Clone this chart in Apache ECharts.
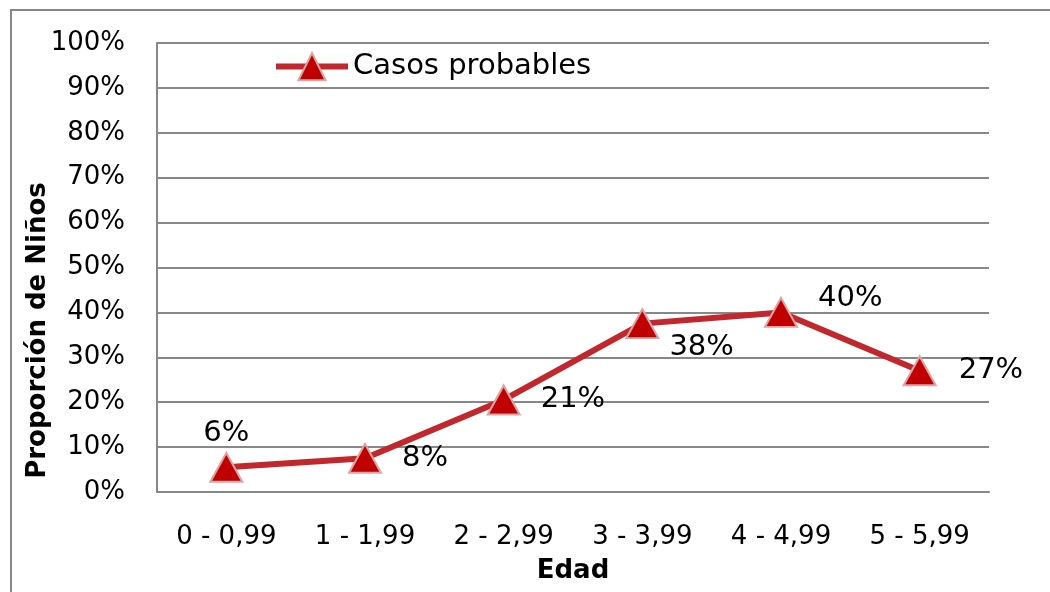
<!DOCTYPE html>
<html><head><meta charset="utf-8">
<script src="https://cdn.jsdelivr.net/npm/echarts@6/dist/echarts.min.js"></script>
<style>html,body{margin:0;padding:0;background:#fff}#c{width:1050px;height:592px}</style>
</head><body><div id="c"></div>
<script>
const categories = ['0 - 0,99','1 - 1,99','2 - 2,99','3 - 3,99','4 - 4,99','5 - 5,99'];
const casosProbables = [5.5, 7.5, 20.5, 37.5, 40, 27];
const yTicks = [0,10,20,30,40,50,60,70,80,90,100];
const seriesName = 'Casos probables';
const yTitle = 'Proporción de Niños';
const xTitle = 'Edad';

const FONT = 'DejaVu Sans';
const labelCfg = [
  {position:'top', distance: 4, offset:[0,0]},
  {position:'right', distance: 20, offset:[0,0]},
  {position:'right', distance: 20, offset:[0,0]},
  {position:'right', distance: 10, offset:[0,24]},
  {position:'right', distance: 20, offset:[0,-14]},
  {position:'right', distance: 22, offset:[0,0]}
];
const chart = echarts.init(document.getElementById('c'), null, {renderer:'canvas'});
chart.setOption({
  animation:false,
  textStyle:{fontFamily:FONT},
  graphic:[{type:'rect', shape:{x:11,y:10,width:1100,height:700}, style:{fill:'none', stroke:'#888', lineWidth:2}, silent:true, z:-1}],
  grid:{left:157, top:43, width:832, height:449, containLabel:false},
  legend:{
    left:268, top:47, itemWidth:72, itemHeight:34, itemGap:0,
    textStyle:{fontSize:29, color:'#000', fontFamily:FONT},
    lineStyle:{width:6, color:'#c1272d'},
    data:[seriesName]
  },
  xAxis:{
    type:'category', data:categories, boundaryGap:true,
    name:xTitle, nameLocation:'middle', nameGap:66, nameMoveOverlap:false,
    nameTextStyle:{fontSize:26, fontWeight:'bold', color:'#000', fontFamily:FONT},
    axisLine:{lineStyle:{color:'#888', width:2}},
    axisTick:{show:false},
    axisLabel:{fontSize:26, color:'#000', margin:32, fontFamily:FONT}
  },
  yAxis:{
    type:'value', min:0, max:100, interval:10,
    name:yTitle, nameLocation:'middle', nameGap:106, nameRotate:90, nameMoveOverlap:false,
    nameTextStyle:{fontSize:26, fontWeight:'bold', color:'#000', fontFamily:FONT, padding:[0,126,0,0]},
    axisLine:{show:true, lineStyle:{color:'#888', width:2}},
    axisTick:{show:false},
    splitLine:{lineStyle:{color:'#888', width:2}},
    axisLabel:{fontSize:26, color:'#000', margin:32, fontFamily:FONT,
      formatter: v => yTicks.includes(v) ? v + '%' : ''}
  },
  series:[{
    name:seriesName, type:'line',
    data: casosProbables.map((v,i)=>({value:v, label:Object.assign({show:true}, labelCfg[i])})),
    symbol:'triangle', symbolSize:[32,29],
    lineStyle:{color:'#c1272d', width:6},
    itemStyle:{color:'#c00000', borderColor:'#dba5a5', borderWidth:2},
    label:{show:true, fontSize:29, color:'#000', fontFamily:FONT,
      formatter: p => Math.round(p.value) + '%'}
  }]
});
</script></body></html>
